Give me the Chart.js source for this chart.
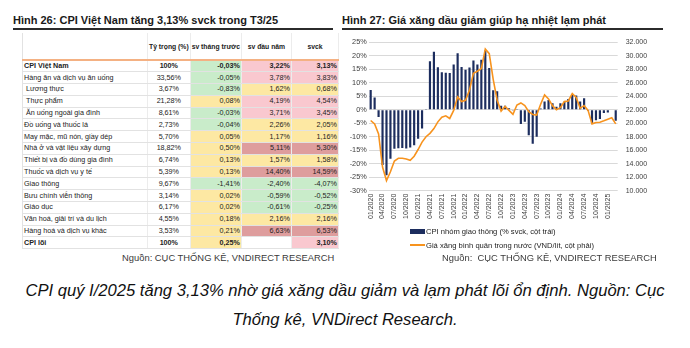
<!DOCTYPE html>
<html>
<head>
<meta charset="utf-8">
<script src="https://cdn.jsdelivr.net/npm/chart.js@4.4.0/dist/chart.umd.min.js"></script>
<style>
  body { margin: 0; width: 690px; height: 348px; background: #fff; position: relative; overflow: hidden;
         font-family: Arial, "Liberation Sans", sans-serif; color: #1a1a1a; }
  .title { position: absolute; top: 14px; font-weight: bold; font-size: 11px; white-space: nowrap; }
  .rule { position: absolute; top: 28px; height: 2px; background: #2b2b2b; }
  #tbl { position: absolute; left: 22px; top: 33px; border-collapse: collapse; table-layout: fixed;
         font-family: "Liberation Sans Narrow", "Arial Narrow", Arial, sans-serif; font-size: 7.2px; color: #222; }
  #tbl td, #tbl th { padding: 0 1px; white-space: nowrap; overflow: hidden; box-sizing: border-box;
                     border-bottom: 1px solid #e2e2e2; border-right: 1px solid #ececec; }
  #tbl th { height: 27px; font-weight: bold; font-size: 6.8px; border-bottom: 2px solid #f4b183; text-align: center; }
  #tbl td { height: 11.8px; line-height: 10px; }
  #tbl td.num { text-align: right; }
  #tbl td.w { text-align: center; }
  #tbl tr.b td { font-weight: bold; }
  #tbl td:first-child, #tbl th:first-child { border-left: 1px solid #e2e2e2; }
  .src { position: absolute; top: 252px; font-size: 9.4px; color: #3a3a3a; white-space: nowrap; }
  #chartBox { position: absolute; left: 340px; top: 30px; width: 350px; height: 200px; }
  #legend { position: absolute; left: 410px; top: 224px; font-size: 7.6px; color: #222; }
  #legend div { height: 14px; display: flex; align-items: center; white-space: nowrap; }
  #legend span.k { display: inline-block; width: 15px; margin-right: 1px; }
  .cap { position: absolute; left: 0; top: 276px; width: 690px; text-align: center; font-style: italic;
         font-size: 16.6px; line-height: 29px; color: #111; }
</style>
</head>
<body>

<div class="title" style="left:13px">Hình 26: CPI Việt Nam tăng 3,13% svck trong T3/25</div>
<div class="rule" style="left:13px;width:320px"></div>
<table id="tbl"></table>
<div class="src" style="left:122px">Nguồn: CỤC THỐNG KÊ, VNDIRECT RESEARCH</div>

<div class="title" style="left:342px">Hình 27: Giá xăng dầu giảm giúp hạ nhiệt lạm phát</div>
<div class="rule" style="left:342px;width:321px"></div>
<div id="chartBox"><canvas id="chart"></canvas></div>
<div id="legend"></div>
<div class="src" style="left:442px">Nguồn:&nbsp; CỤC THỐNG KÊ, VNDIRECT RESEARCH</div>

<div class="cap">CPI quý I/2025 tăng 3,13% nhờ giá xăng dầu giảm và lạm phát lõi ổn định. Nguồn: Cục<br>Thống kê, VNDirect Research.</div>

<script>
// Bảng CPI (Hình 26)
const headers = ['', 'Tỷ trọng (%)', 'sv tháng trước', 'sv đầu năm', 'svck'];
const groups = ['CPI Việt Nam', 'Hàng ăn và dịch vụ ăn uống', ' Lương thực', ' Thực phẩm', ' Ăn uống ngoài gia đình',
  'Đồ uống và thuốc lá', 'May mặc, mũ nón, giầy dép', 'Nhà ở và vật liệu xây dựng', 'Thiết bị và đồ dùng gia đình',
  'Thuốc và dịch vụ y tế', 'Giao thông', 'Bưu chính viễn thông', 'Giáo dục', 'Văn hoá, giải trí và du lịch',
  'Hàng hoá và dịch vụ khác', 'CPI lõi'];
const weights = ['100%', '33,56%', '3,67%', '21,28%', '8,61%', '2,73%', '5,70%', '18,82%', '6,74%', '5,39%',
  '9,67%', '3,14%', '6,17%', '4,55%', '3,53%', '100%'];
const vsPrevMonth = [-0.03, -0.05, -0.83, 0.08, -0.03, -0.04, 0.05, 0.50, 0.13, 0.13, -1.41, 0.02, 0.02, 0.18, 0.21, 0.25];
const vsYearStart = [3.22, 3.78, 1.62, 4.19, 3.71, 2.26, 1.17, 5.11, 1.57, 14.40, -2.40, -0.59, -0.61, 2.16, 6.63, null];
const vsLastYear = [3.13, 3.83, 0.68, 4.54, 3.45, 2.05, 1.16, 5.30, 1.58, 14.59, -4.07, -0.52, -0.25, 2.16, 6.53, 3.10];
const boldRows = ['CPI Việt Nam', 'CPI lõi'];

// Biểu đồ (Hình 27)
const months = ['01/2020','02/2020','03/2020','04/2020','05/2020','06/2020','07/2020','08/2020','09/2020','10/2020','11/2020','12/2020',
  '01/2021','02/2021','03/2021','04/2021','05/2021','06/2021','07/2021','08/2021','09/2021','10/2021','11/2021','12/2021',
  '01/2022','02/2022','03/2022','04/2022','05/2022','06/2022','07/2022','08/2022','09/2022','10/2022','11/2022','12/2022',
  '01/2023','02/2023','03/2023','04/2023','05/2023','06/2023','07/2023','08/2023','09/2023','10/2023','11/2023','12/2023',
  '01/2024','02/2024','03/2024','04/2024','05/2024','06/2024','07/2024','08/2024','09/2024','10/2024','11/2024','12/2024',
  '01/2025','02/2025','03/2025'];
const transportCpi = [7.3, 4.5, -2.7, -20.5, -24.3, -18.2, -14.5, -14.3, -14.2, -14.4, -14.0, -13.2,
  -10.8, -7.0, 0.3, 17.9, 21.5, 15.7, 13.9, 13.7, 13.6, 16.7, 20.9, 15.8,
  14.8, 15.6, 18.2, 16.7, 18.5, 21.9, 15.4, 7.2, 6.8, 1.5, 1.5, 0.5,
  -0.3, 0.1, -5.3, -4.5, -9.5, -12.6, -10.0, 0.4, 3.0, 3.6, 2.4, 1.1,
  2.4, 2.9, 4.0, 5.5, 5.3, 3.0, 4.2, -0.5, -5.0, -3.9, -3.4, -1.2,
  -1.0, -0.2, -4.1];
const gasPrice = [20400, 19900, 18400, 13500, 11500, 12800, 14400, 14800, 14800, 14700, 14500, 15100,
  16100, 17200, 18000, 18500, 19200, 20200, 20900, 21100, 20700, 21900, 23900, 23200,
  23400, 24900, 27400, 27700, 28100, 31000, 30300, 26500, 23400, 21800, 22500, 21900,
  21300, 22700, 23000, 22600, 21700, 21300, 21200, 22800, 24200, 23600, 22600, 22000,
  22300, 23200, 23300, 24400, 23800, 22200, 22600, 21900, 19900, 20100, 20150, 20350,
  20600, 20800, 19900];
const barLabel = 'CPI nhóm giao thông (% svck, cột trái)';
const lineLabel = 'Giá xăng bình quân trong nước (VND/lít, cột phải)';

// --- dựng bảng ---
const fmt = v => v.toFixed(2).replace('.', ',') + '%';
const cellColor = v => {
  if (v === null) return '#ffffff';
  if (v < 0) return '#c9ecca';
  if (v < 3) return '#fde8a3';
  if (v < 5) return '#f9c8cf';
  return '#de9d9d';
};
const colW = [125, 41, 48, 50, 47];
const tbl = document.getElementById('tbl');
let html = '<colgroup>' + colW.map(w => '<col style="width:' + w + 'px">').join('') + '</colgroup>';
html += '<tr>' + headers.map(h => '<th>' + h + '</th>').join('') + '</tr>';
groups.forEach((g, i) => {
  const cls = boldRows.includes(g) ? ' class="b"' : '';
  html += '<tr' + cls + '><td>' + g.replace(/^ /, '&nbsp;') + '</td><td class="w">' + weights[i] + '</td>';
  [vsPrevMonth[i], vsYearStart[i], vsLastYear[i]].forEach(v => {
    html += '<td class="num" style="background:' + cellColor(v) + '">' + (v === null ? '' : fmt(v)) + '</td>';
  });
  html += '</tr>';
});
tbl.innerHTML = html;

// --- biểu đồ ---
Chart.defaults.font.family = 'Arial, "Liberation Sans", sans-serif';
Chart.defaults.color = '#404040';
const dotted = v => v.toString().replace(/\B(?=(\d{3})+(?!\d))/g, '.');

const chart = new Chart(document.getElementById('chart').getContext('2d'), {
  type: 'bar',
  data: {
    labels: months,
    datasets: [{
      type: 'line',
      label: lineLabel,
      data: gasPrice,
      yAxisID: 'y1',
      borderColor: '#f7931e',
      borderWidth: 1.6,
      pointRadius: 0,
      tension: 0,
      order: 1
    }, {
      label: barLabel,
      data: transportCpi,
      yAxisID: 'y',
      backgroundColor: '#1c2d5e',
      barPercentage: 0.55,
      categoryPercentage: 1,
      order: 2
    }]
  },
  options: {
    responsive: true,
    maintainAspectRatio: false,
    animation: false,
    layout: { padding: { top: 11, left: 0, right: 0, bottom: 0 } },
    plugins: { legend: { display: false }, tooltip: { enabled: false } },
    scales: {
      x: {
        grid: { display: false, drawTicks: false },
        border: { display: false },
        ticks: {
          autoSkip: false, minRotation: 90, maxRotation: 90, padding: 3,
          font: { size: 7 },
          callback: function (value, index) { return index % 3 === 0 ? this.getLabelForValue(value) : ''; }
        },
        afterFit: s => { s.height = 39.3; }
      },
      y: {
        position: 'left', min: -30, max: 25,
        grid: { color: '#d9d9d9', drawTicks: false },
        border: { display: false },
        ticks: { stepSize: 5, padding: 2, font: { size: 7.3 }, callback: v => v + '%' },
        afterFit: s => { s.width = 28.7; }
      },
      y1: {
        position: 'right', min: 10000, max: 32000,
        grid: { display: false, drawTicks: false },
        border: { display: false },
        ticks: { stepSize: 2000, padding: 8, font: { size: 7 }, callback: v => dotted(v) },
        afterFit: s => { s.width = 72.3; }
      }
    }
  }
});

// chú giải
const legend = document.getElementById('legend');
chart.data.datasets.slice().reverse().forEach(ds => {
  const key = ds.type === 'line'
    ? '<span class="k" style="height:2px;background:' + ds.borderColor + '"></span>'
    : '<span class="k" style="height:5px;background:' + ds.backgroundColor + '"></span>';
  legend.innerHTML += '<div>' + key + ds.label + '</div>';
});
</script>
</body>
</html>
